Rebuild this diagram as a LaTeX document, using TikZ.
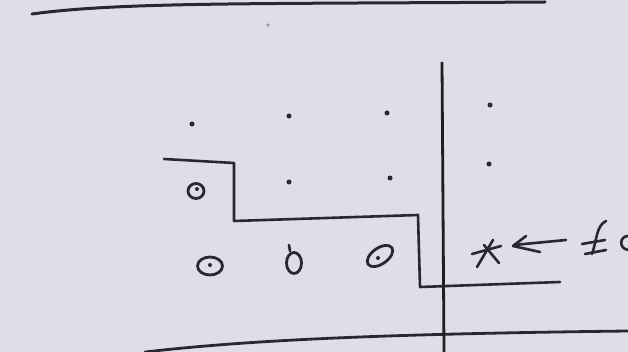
\documentclass[tikz,border=0pt]{standalone}
\usetikzlibrary{shapes.geometric}
\definecolor{paper}{RGB}{221,222,230}
\definecolor{ink}{RGB}{40,40,48}
\definecolor{vink}{RGB}{35,28,36}
\definecolor{faintink}{RGB}{150,150,160}
\begin{document}
\begin{tikzpicture}[x=1pt,y=-1pt,
  pen/.style={draw=ink, line width=2.6pt, line cap=round, line join=round},
  dotmark/.style={circle, fill=ink, inner sep=0pt, minimum size=5pt},
  ring/.style={ellipse, draw=ink, line width=2.8pt, inner sep=0pt},
  centre/.style={circle, fill=ink, inner sep=0pt, minimum size=4pt}]
\fill[paper] (0,0) rectangle (628,352);
\useasboundingbox (0,0) rectangle (628,352);
% faint mark
\node[circle, fill=faintink, inner sep=0pt, minimum size=3.5pt] (faint) at (268,25) {};
% top and bottom page lines
\draw[pen, line width=3pt] (32,14) .. controls (120,2) and (250,4) .. (545,2);
\draw[pen, line width=2.8pt] (145,352) .. controls (250,340) and (380,334) .. (628,331);
% vertical line
\draw[draw=vink, line width=2.8pt] (442,62) -- (444,352);
% staircase boundary
\draw[pen] (164,159) -- (234,163) -- (234,221) -- (418,215) -- (420,287) -- (560,282);
% dots
\node[dotmark] (d1) at (192,124) {};
\node[dotmark] (d2) at (289,116) {};
\node[dotmark] (d3) at (387,113) {};
\node[dotmark] (d4) at (490,105) {};
\node[dotmark] (d5) at (289,182) {};
\node[dotmark] (d6) at (390,178) {};
\node[dotmark] (d7) at (489,164) {};
% rings
\node[ring, minimum width=16pt, minimum height=15pt] (r1) at (196,191) {};
\node[centre] (c1) at (197,189) {};
\node[ring, minimum width=25pt, minimum height=18pt] (r2) at (210,266) {};
\node[centre] (c2) at (210,265) {};
\node[ring, minimum width=15pt, minimum height=21pt] (r3) at (294,263) {};
\draw[pen] (290,251) -- (289,245);
\node[ring, minimum width=29pt, minimum height=16pt, rotate=35] (r4) at (380,256) {};
\node[centre] (c4) at (378,258) {};
% cross
\draw[pen] (472,254) -- (501,246);
\draw[pen] (477,267) -- (493,240);
\draw[pen] (484,245) -- (499,263);
% arrow
\draw[pen] (526,236) -- (513,246) -- (540,252);
\draw[pen] (514,245) -- (566,240);
% handwritten symbol
\draw[pen] (606,221) .. controls (596,226) and (597,240) .. (592,254);
\draw[pen] (582,244) -- (605,240);
\draw[pen] (585,254) -- (606,250);
\draw[pen] (628,236) .. controls (620,236) and (618,248) .. (628,250);
\end{tikzpicture}
\end{document}
